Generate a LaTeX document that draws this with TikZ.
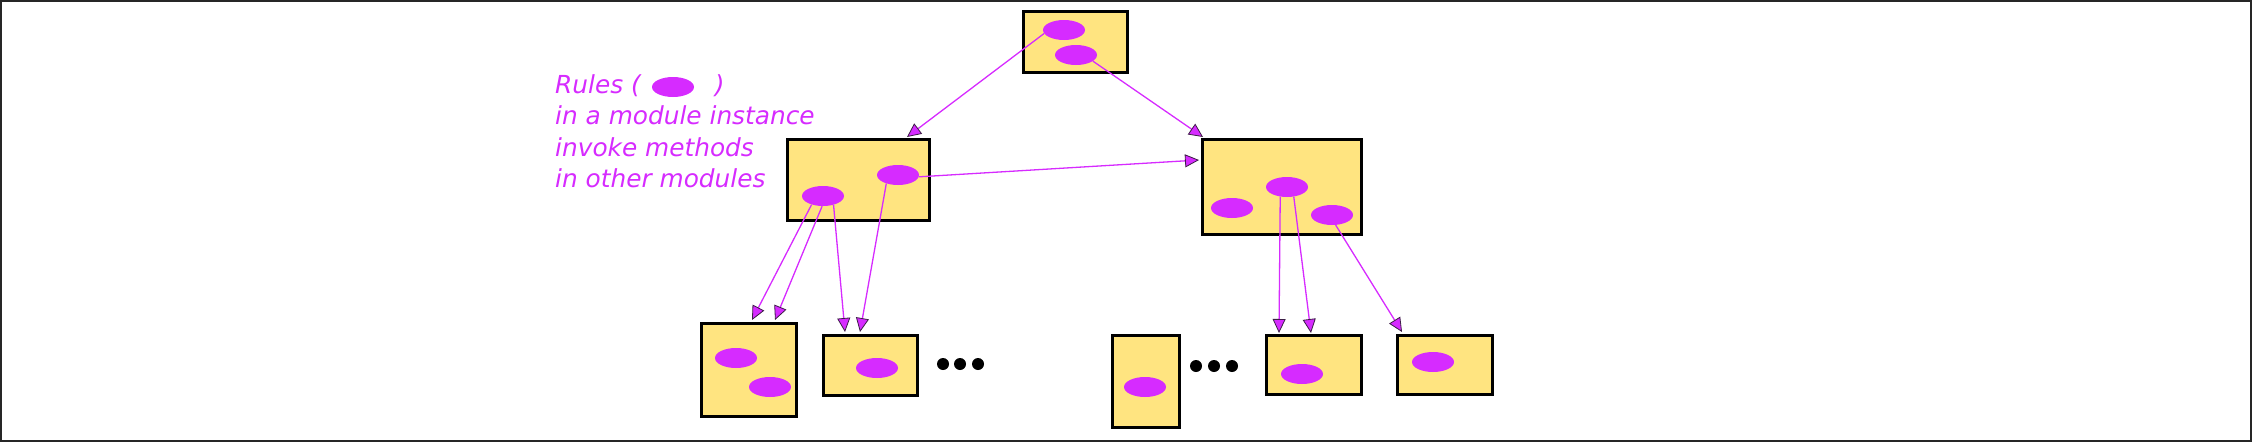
\documentclass[tikz,border=0pt]{standalone}
\usepackage{fontspec}
\setmainfont{DejaVu Sans}
\usetikzlibrary{shapes.geometric,arrows.meta}
\definecolor{boxyellow}{RGB}{255,228,128}
\definecolor{rulemag}{RGB}{214,43,255}
\definecolor{tipline}{RGB}{60,30,70}
\tikzset{
  modbox/.style={draw=black, line width=3pt, fill=boxyellow, inner sep=0pt},
  rule/.style={ellipse, fill=rulemag, inner sep=0pt, minimum width=42pt, minimum height=20pt},
  call/.style={draw=rulemag, line width=1.3pt,
    -{Triangle[length=14pt,width=13pt,fill=rulemag,color=tipline,line width=0.8pt]}},
  dot/.style={circle, fill=black, inner sep=0pt, minimum size=12pt},
  note/.style={text=rulemag, font=\fontsize{24.8}{31.5}\selectfont\itshape, anchor=base west, inner sep=0pt}
}
\begin{document}
\begin{tikzpicture}[x=1pt,y=-1pt]
\useasboundingbox (0,0) rectangle (2252,442);
\draw[line width=2pt, draw=black!85] (1,1) rectangle (2251,441);

% boxes
\node[modbox, minimum width=104pt, minimum height=61pt] (T) at (1075,41.5) {};
\node[modbox, minimum width=142pt, minimum height=81pt] (LM) at (858,179.5) {};
\node[modbox, minimum width=159pt, minimum height=95pt] (RM) at (1281.5,186.5) {};
\node[modbox, minimum width=95pt, minimum height=93pt] (BA) at (748.5,369.5) {};
\node[modbox, minimum width=94pt, minimum height=60pt] (BB) at (870,365) {};
\node[modbox, minimum width=67pt, minimum height=92pt] (BC) at (1145.5,381) {};
\node[modbox, minimum width=95pt, minimum height=59pt] (BD) at (1313.5,364.5) {};
\node[modbox, minimum width=95pt, minimum height=59pt] (BE) at (1444.5,364.5) {};

% rules
\node[rule] (T1) at (1064,30) {};
\node[rule] (T2) at (1076,55) {};
\node[rule] (L1) at (823,196) {};
\node[rule] (L2) at (898,175) {};
\node[rule] (R1) at (1232,208) {};
\node[rule] (R2) at (1287,187) {};
\node[rule] (R3) at (1332,215) {};
\node[rule] (A1) at (736,358) {};
\node[rule] (A2) at (770,387) {};
\node[rule] (B1) at (877,368) {};
\node[rule] (C1) at (1145,387) {};
\node[rule] (D1) at (1302,374) {};
\node[rule] (E1) at (1433,362) {};

% dots
\node[dot] (d1) at (943,364) {};
\node[dot] (d2) at (960,364) {};
\node[dot] (d3) at (978,364) {};
\node[dot] (d4) at (1196,366) {};
\node[dot] (d5) at (1214,366) {};
\node[dot] (d6) at (1232,366) {};

% arrow end points
\coordinate (p1) at (907,137);
\coordinate (p2) at (1203,137);
\coordinate (p3) at (1199,160);
\coordinate (p4) at (752,320);
\coordinate (p5) at (775,320);
\coordinate (p6) at (845,332);
\coordinate (p7) at (860,332);
\coordinate (p8) at (1279,333);
\coordinate (p9) at (1311,333);
\coordinate (p10) at (1402,332);

\draw[call] (T1.190) -- (p1);
\draw[call] (T2.-20) -- (p2);
\draw[call] (L2.-5) -- (p3);
\draw[call] (L1.-143) -- (p4);
\draw[call] (L1.-95) -- (p5);
\draw[call] (L1.-40) -- (p6);
\draw[call] (L2.-144) -- (p7);
\draw[call] (R2.-125) -- (p8);
\draw[call] (R2.-55) -- (p9);
\draw[call] (R3.-70) -- (p10);

% legend text
\node[note] (n1) at (555,93) {Rules (\hspace{74pt})};
\node[note] (n2) at (555,124.5) {in a module instance};
\node[note] (n3) at (555,156) {invoke methods};
\node[note] (n4) at (555,187.5) {in other modules};
\node[rule] (legend) at (673,87) {};
\end{tikzpicture}
\end{document}
